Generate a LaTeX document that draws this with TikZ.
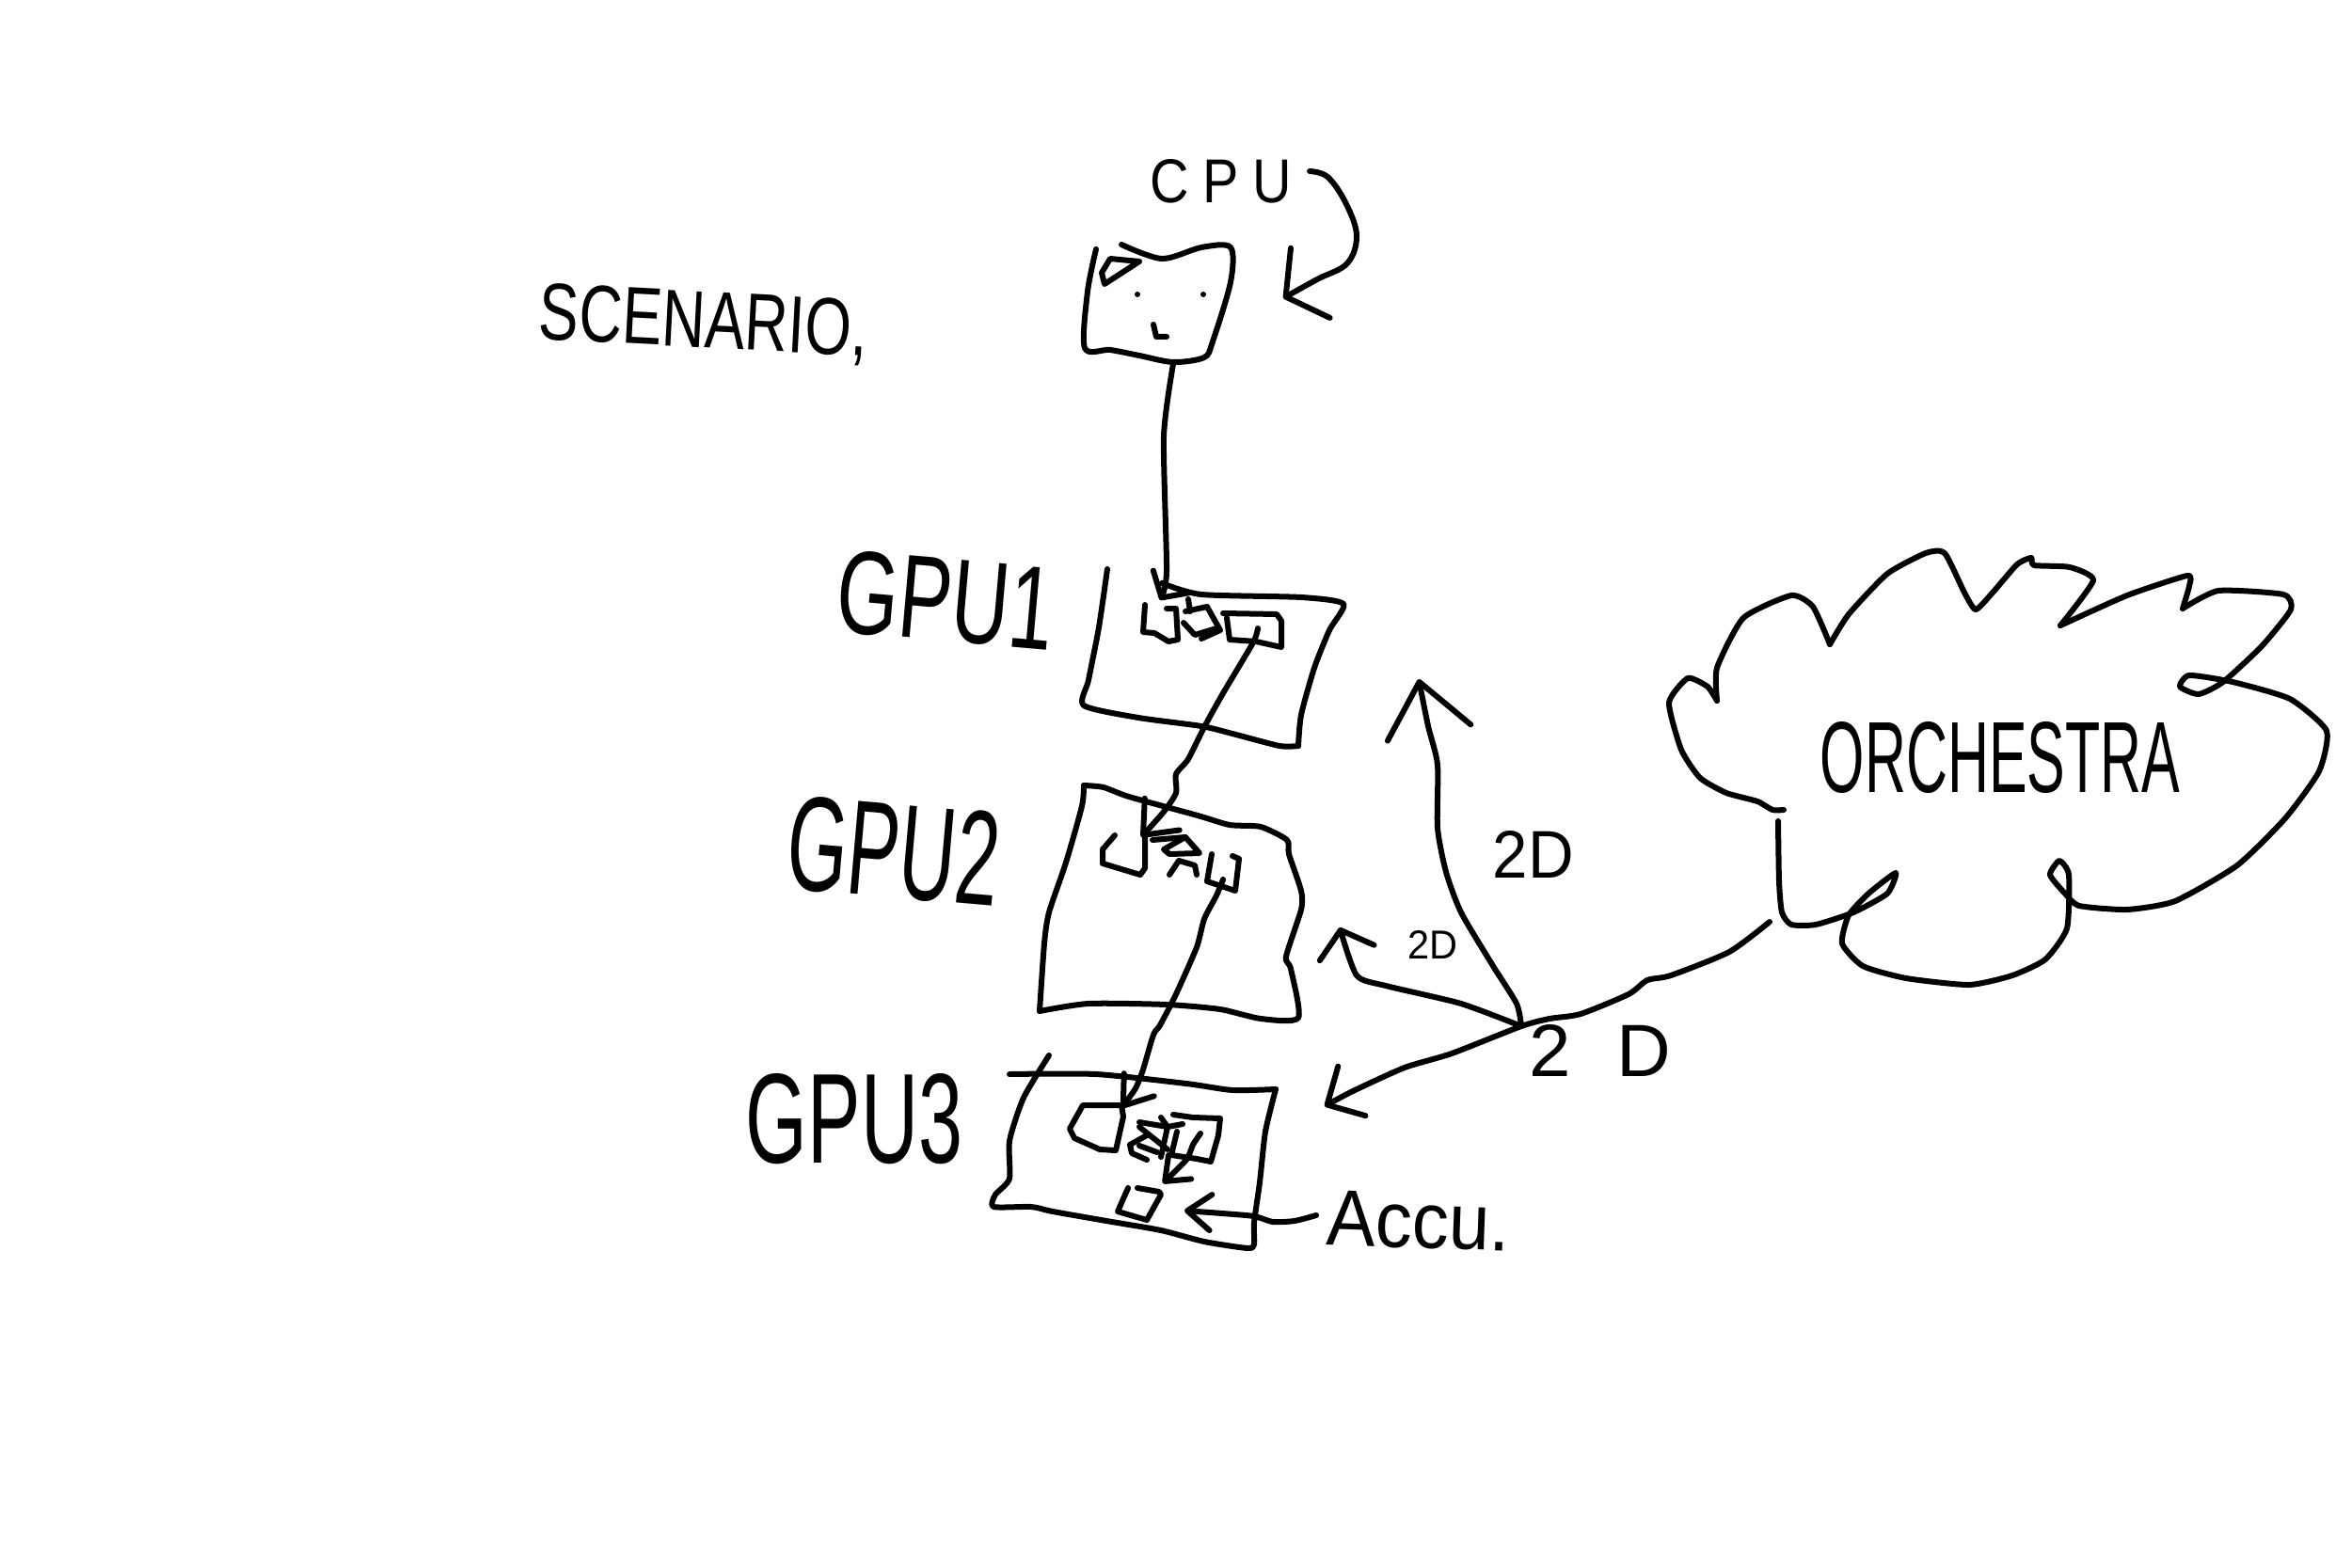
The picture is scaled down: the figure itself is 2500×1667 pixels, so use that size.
\documentclass[tikz,border=0pt]{standalone}
\usepackage{fontspec}
\setmainfont{Liberation Sans}
\usetikzlibrary{arrows.meta}
\usetikzlibrary{positioning}
\newcommand{\handtext}[3]{\resizebox{#1cm}{#2cm}{#3}}
\begin{document}
\begin{tikzpicture}[
				x=0.01cm,
				y=-0.01cm,
				pen/.style={line width=0.06cm, line cap=round, line join=round},
				arrow/.style 2 args={pen, -{Straight Barb[round, length=#1cm, width=#2cm]}},
				label/.style={inner sep=0pt},
			]
				\useasboundingbox (0,0) rectangle (2500,1667);

				% labels
				\node (cputxt) [label] at (1298,193) {\handtext{1.5}{0.46}{C\hspace{0.25em}P\hspace{0.25em}U}};
				\node (scenario) [label, rotate=-3] at (748,345) {\handtext{3.5}{0.6}{SCENARIO,}};
				\node (gpuone) [label, rotate=-5] at (1005,638) {\handtext{2.3}{0.88}{GPU1}};
				\node (gputwo) [label, rotate=-5] at (950,905) {\handtext{2.25}{1.0}{GPU2}};
				\node (gputhree) [label] at (908,1190) {\handtext{2.3}{0.95}{GPU3}};
				\node (orchestra) [label] at (2126,806) {\handtext{3.82}{0.75}{ORCHESTRA}};
				\node (accu) [label, rotate=-2] at (1508,1298) {\handtext{1.95}{0.58}{Accu.}};
				\node (tdup) [label] at (1630,908) {\handtext{0.86}{0.5}{2D}};
				\node (tdmid) [label] at (1523,1004) {\handtext{0.53}{0.3}{2D}};
				\node (tdlow) [label] at (1701,1117) {\handtext{1.5}{0.55}{2\hspace{0.6em}D}};

				% cpu box
				\draw[pen] plot[smooth, tension=0.5] coordinates {(1192,260) (1235,275) (1277,263) (1308,263) (1308,300) (1289,363) (1280,380) (1247,385) (1211,378) (1180,372) (1153,370) (1156,310) (1165,265)};
				\draw[pen] (1180,275) -- (1211,278) -- (1174,302) -- (1171,290) -- cycle;
				\fill (1209,313) circle (3);
				\fill (1279,313) circle (3);
				\draw[pen] (1226,345) -- (1229,358) -- (1240,358);

				% gpu1 box
				\draw[pen] plot[smooth, tension=0.4] coordinates {(1177,605) (1168,667) (1157,723) (1152,750) (1210,763) (1277,772) (1310,780) (1360,793) (1380,793)};
				\draw[pen] plot[smooth, tension=0.4] coordinates {(1380,793) (1383,760) (1397,710) (1413,670) (1428,642) (1383,635) (1277,632) (1235,620)};
				\draw[pen] (1217,643) -- (1215,672) -- (1227,673) -- (1242,682) -- (1252,680) -- (1250,647) -- (1240,647);
				\draw[pen] (1300,652) -- (1357,653) -- (1362,660) -- (1362,688) -- (1335,682) -- (1307,680) -- (1304,657);
				\draw[pen] (1263,637) -- (1265,650);
				\draw[pen] (1260,650) -- (1283,645) -- (1297,670) -- (1277,679);
				\draw[pen] (1258,662) -- (1270,675) -- (1293,668);

				% gpu2 box
				\draw[pen] plot[smooth, tension=0.4] coordinates {(1152,835) (1173,837) (1200,847) (1273,867) (1307,877) (1340,879) (1368,893) (1370,908) (1383,947) (1383,967) (1367,1017) (1372,1030) (1380,1082) (1340,1083) (1297,1073) (1240,1068) (1157,1067) (1105,1075)};
				\draw[pen] plot[smooth, tension=0.4] coordinates {(1105,1075) (1110,1003) (1115,970) (1133,917) (1150,857) (1152,835)};
				\draw[pen] (1185,888) -- (1172,903) -- (1172,918) -- (1212,930) -- (1217,923) -- (1217,890);
				\draw[pen] (1288,908) -- (1283,937) -- (1313,947) -- (1317,913) -- (1310,910);
				\draw[pen] (1260,890) -- (1237,903) -- (1243,908) -- (1275,907) -- (1260,890);
				\draw[pen] (1243,930) -- (1253,915) -- (1270,920) -- (1272,930);
				\draw[pen] (1225,893) -- (1260,890);

				% gpu3 box
				\draw[pen] plot[smooth, tension=0.4] coordinates {(1073,1142) (1165,1142) (1261,1152) (1310,1159) (1356,1158)};
				\draw[pen] plot[smooth, tension=0.4] coordinates {(1356,1158) (1345,1203) (1339,1257) (1333,1300) (1333,1323) (1326,1327) (1280,1320) (1234,1308) (1176,1298) (1119,1288) (1096,1283) (1056,1283) (1058,1270) (1073,1253) (1073,1213) (1088,1167) (1115,1122)};
				\draw[pen] (1151,1175) -- (1192,1175) -- (1194,1187) -- (1186,1223) -- (1169,1222) -- (1142,1210) -- (1137,1200) -- cycle;
				\draw[pen] (1247,1185) -- (1268,1188) -- (1297,1189) -- (1295,1207) -- (1287,1235) -- (1272,1232) -- (1245,1228) -- (1251,1203);
				\draw[pen] (1211,1193) -- (1241,1198) -- (1257,1195);
				\draw[pen] (1234,1188) -- (1241,1198) -- (1234,1230);
				\draw[pen] (1211,1198) -- (1241,1222);
				\draw[pen] (1219,1207) -- (1201,1217) -- (1203,1226) -- (1219,1233);
				\draw[pen] (1211,1218) -- (1230,1225);
				\draw[pen] (1199,1263) -- (1188,1288) -- (1219,1297) -- (1234,1270) -- (1232,1267) -- (1209,1263);

				% orchestra
				\draw[pen] plot[smooth, tension=0.35] coordinates {(1896,861) (1884,861) (1868,852) (1835,843) (1807,827) (1787,797) (1774,747) (1794,721) (1815,730) (1825,745)};
				\draw[pen] plot[smooth, tension=0.35] coordinates {(1825,745) (1825,710) (1853,657) (1904,633) (1927,645) (1945,685)};
				\draw[pen] plot[smooth, tension=0.35] coordinates {(1945,685) (1965,653) (2006,610) (2047,588) (2067,588) (2088,630) (2100,648) (2118,630) (2144,600) (2159,593) (2162,601) (2200,603) (2225,617) (2190,665)};
				\draw[pen] plot[smooth, tension=0.35] coordinates {(2190,665) (2261,633) (2325,612) (2327,623) (2320,647)};
				\draw[pen] plot[smooth, tension=0.35] coordinates {(2320,647) (2358,628) (2427,632) (2435,648) (2404,687) (2363,725) (2337,738) (2317,730) (2327,718) (2373,725) (2434,743) (2473,777) (2465,820) (2429,870) (2378,920) (2312,958) (2261,967) (2210,963) (2195,950) (2179,930) (2189,915) (2199,930) (2197,987) (2174,1020) (2139,1037) (2093,1047) (2026,1040) (1980,1027) (1958,1003) (1965,973) (1986,950) (2015,928) (2006,950) (1970,970) (1930,983) (1904,983) (1894,970) (1891,937) (1890,873)};

				% connector ends
				\coordinate (cpuout) at (1247,387);
				\coordinate (gpuonein) at (1233,638);
				\coordinate (gpuoneout) at (1337,668);
				\coordinate (gputwoin) at (1213,890);
				\coordinate (gputwoout) at (1300,935);
				\coordinate (gputhreein) at (1192,1178);
				\coordinate (gputhreeout) at (1276,1205);
				\coordinate (accubox) at (1236,1258);
				\coordinate (accuin) at (1259,1287);
				\coordinate (accuout) at (1399,1292);
				\coordinate (orchout) at (1881,980);
				\coordinate (gputhreeside) at (1408,1176);
				\coordinate (split) at (1617,1091);
				\coordinate (gpuoneside) at (1508,722);
				\coordinate (gputwoside) at (1424,986);
				\coordinate (loopstart) at (1392,182);
				\coordinate (loopend) at (1364,317);

				\draw[arrow={0.2}{0.45}] plot[smooth, tension=0.4] coordinates {(cpuout) (1237,464) (1240,608) (gpuonein)};
				\draw[arrow={0.3}{0.5}] plot[smooth, tension=0.4] coordinates {(gpuoneout) (1332,683) (1300,737) (1280,773) (1263,807) (1250,823) (1250,843) (1237,863) (gputwoin)};
				\draw[arrow={0.28}{0.4}] plot[smooth, tension=0.4] coordinates {(gputwoout) (1293,952) (1280,977) (1272,1007) (1250,1057) (1233,1090) (1226,1100) (1215,1137) (1207,1157) (gputhreein)};
				\draw[arrow={0.22}{0.35}] plot[smooth, tension=0.4] coordinates {(gputhreeout) (1268,1217) (1261,1233) (accubox)};
				\draw[arrow={0.25}{0.38}] plot[smooth, tension=0.4] coordinates {(accuout) (1376,1298) (1353,1299) (1333,1293) (1299,1290) (accuin)};
				\draw[arrow={0.3}{0.6}] plot[smooth, tension=0.4] coordinates {(orchout) (1838,1012) (1776,1037) (1751,1042) (1731,1057) (1680,1078) (1647,1083) (split) (1543,1120) (1493,1135) (1438,1160) (gputhreeside)};
				\draw[arrow={0.55}{0.9}] plot[smooth, tension=0.4] coordinates {(split) (1612,1067) (1587,1027) (1553,970) (1537,927) (1528,880) (1528,813) (1518,772) (gpuoneside)};
				\draw[arrow={0.25}{0.6}] plot[smooth, tension=0.4] coordinates {(split) (1553,1067) (1473,1048) (1442,1037) (gputwoside)};
				\draw[arrow={0.3}{0.85}] plot[smooth, tension=0.6] coordinates {(loopstart) (1411,188) (1430,215) (1442,250) (1432,280) (1400,297) (loopend)};
			\end{tikzpicture}
\end{document}
